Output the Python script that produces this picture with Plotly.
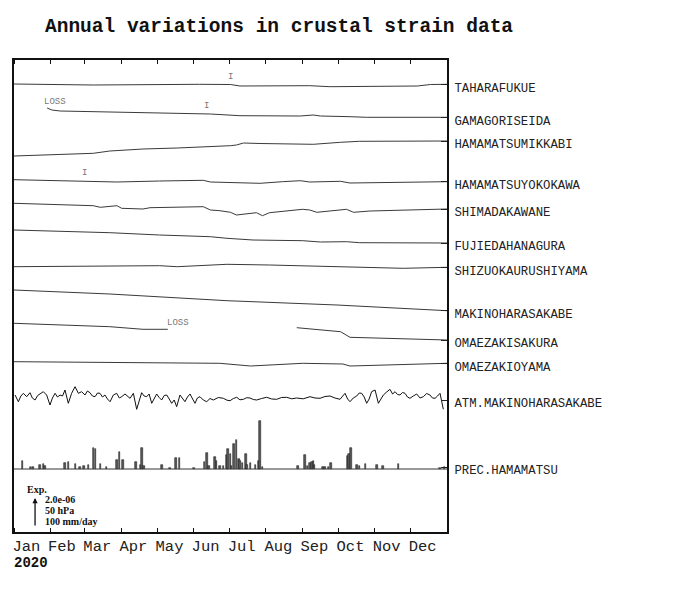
import pandas as pd
import plotly.graph_objects as go

# ---------------- data (chart units, 2.0e-06 strain = 50 hPa = 100 mm/day = 29 units) ----
YEAR_START = "2020-01-01"
YEAR_END = "2021-01-01"

TAHARAFUKUE_DAYS = [0, 67, 157, 183, 191, 250, 267, 284, 292, 341, 352, 366]
TAHARAFUKUE_VALS = [448, 447, 447.7, 447.5, 446, 446.3, 445.3, 445.3, 446, 446, 447.5, 447.7]

GAMAGORISEIDA_DAYS = [28, 32, 39, 81, 138, 157, 166, 191, 214, 242, 253, 259, 284, 298, 366]
GAMAGORISEIDA_VALS = [424, 422, 421, 420, 418, 418, 418, 416.3, 416, 416, 417, 416, 415.3, 414.7, 414.7]

MIKKABI_DAYS = [0, 53, 67, 81, 109, 138, 157, 183, 188, 194, 208, 253, 276, 292, 366]
MIKKABI_VALS = [376, 377.7, 378.7, 381, 383, 384, 384.7, 386.3, 387, 389, 388.5, 387.7, 389.7, 390.7, 391]

YOKOKAWA_DAYS = [0, 53, 87, 123, 157, 160, 166, 185, 194, 208, 227, 242, 250, 276, 284, 326, 366]
YOKOKAWA_VALS = [352.3, 351.3, 350, 351, 351.5, 351.7, 350, 349.3, 349, 348.7, 350.3, 351.3, 350, 350.7, 349, 350, 350.3]

SHIMADAKAWANE_DAYS = [0, 45, 67, 73, 87, 91, 109, 115, 138, 160, 166, 174, 183, 188, 205, 210,
                      216, 244, 250, 256, 281, 287, 301, 329, 366]
SHIMADAKAWANE_VALS = [328.7, 327.3, 326.3, 324.7, 326.3, 323.7, 323, 324.3, 325, 325.3, 322, 321.3,
                      319.7, 317, 319.3, 316.3, 319.3, 322.7, 322, 319.7, 322.7, 319.7, 321, 322, 323]

FUJIEDA_DAYS = [0, 81, 123, 166, 180, 202, 244, 259, 281, 292, 366]
FUJIEDA_VALS = [302, 299.3, 297, 295.3, 293.7, 292, 291.3, 290, 290.3, 289.3, 289]

SHIZUOKA_DAYS = [0, 81, 123, 138, 180, 216, 259, 287, 329, 366]
SHIZUOKA_VALS = [265.3, 266.3, 266.3, 265.3, 267.7, 267, 266, 264.7, 263.7, 264.7]

MAKINOHARA_DAYS = [0, 81, 180, 273, 366]
MAKINOHARA_VALS = [242, 238, 231.3, 227, 221.3]

SAKURA_DAYS = [0, 81, 109, 130, None, 239, 276, 284, 366]
SAKURA_VALS = [208.7, 205.3, 202.7, 202.7, None, 204.3, 200.3, 194.7, 192]

OYAMA_DAYS = [0, 81, 174, 200, 244, 278, 284, 366]
OYAMA_VALS = [170.3, 169.3, 168.7, 166, 168.7, 168, 166, 168.7]

ATM_DAYS = [0.9, 3.7, 5.8, 7.9, 10.7, 13.5, 15.5, 17.8, 20, 22, 24.8, 27.6, 30.4, 32.5, 34.7, 36.8,
            38.9, 41, 43.1, 45.9, 48.7, 51.6, 54.4, 57.2, 60, 62, 64.2, 66.3, 68.5, 70.6, 72.7, 74.8,
            76.9, 79, 81.2, 84, 86.8, 89, 91, 93.8, 96, 98.1, 100.9, 103.7, 107.9, 110, 112.1, 114.2,
            116.4, 118.5, 120.6, 122.7, 124.8, 127, 129.1, 131.2, 133.3, 135.4, 137.5, 140.3, 142.4,
            144.5, 146.6, 148.8, 151, 153, 155, 157.2, 160, 162.9, 165.7, 168.5, 172.7, 177, 180,
            182.6, 185.4, 188.2, 191, 193.9, 196.7, 199.5, 202.3, 205.1, 209.3, 213.6, 217.8, 222,
            226.2, 230.5, 234.7, 238.9, 244.5, 250.2, 254.4, 258.7, 262.9, 267.1, 271.3, 275.6, 279.8,
            282, 284, 286.8, 289.7, 291.8, 293.9, 296, 298.1, 300.2, 302.3, 305.2, 308, 310.1, 312.2,
            315, 317.8, 320, 322.1, 324.2, 326.3, 328.4, 330.5, 332.6, 334.7, 337.5, 340.4, 343.2, 346,
            348.8, 351.6, 353.7, 355.9, 358, 360.1, 362.9]
ATM_VALS = [137, 130.3, 136, 138.7, 135.3, 139.3, 134, 132, 136.5, 138, 140.3, 137, 127, 134, 138.7, 135,
            137, 136, 142, 128.7, 138.7, 145.3, 138.7, 140.3, 137, 141, 139.3, 136, 135.3, 139, 138.7, 135,
            137, 133, 130.3, 137, 138.7, 134, 135.3, 138, 136, 133.7, 138.7, 122.7, 139.3, 136, 135.3, 138,
            128.7, 134, 138, 134.5, 132, 136.5, 137, 133, 128.7, 132, 125.3, 137, 134,
            130.3, 135, 138, 133, 128.7, 134, 135.3, 132, 130.3, 133.5, 132, 134.5, 133.7, 131.8,
            131.3, 133.5, 134.7, 132.2, 132.7, 134.3, 134, 132.5, 132, 133.5, 134.7, 133, 132.7,
            134.5, 134.7, 133.2, 134, 133.2, 135.3, 134, 133.7, 135.5, 136, 134, 132.7, 138.7,
            133, 130.3, 134, 136, 139, 138.7, 135, 128.7, 133, 140.3, 142, 128.7, 133, 137,
            140, 142.7, 138, 140.3, 137.5, 137, 139.5, 138.7, 135, 133.7, 136, 138, 134, 135.3,
            138.5, 137, 134, 133.7, 136, 138.7, 122.7]

PREC_BASE = 63
PREC_DAYS = [7, 14, 16, 22, 25, 26, 43, 46, 52, 56, 59, 63, 67, 69, 73, 78, 87, 89, 92, 103, 107, 108,
             110, 125, 132, 137, 140, 152, 161, 163, 165, 170, 171, 174, 177, 180, 181, 183, 184, 186,
             188, 190, 191, 193, 196, 197, 200, 204, 207, 208, 210, 240, 246, 248, 250, 252, 253, 254,
             261, 263, 266, 268, 282, 283, 285, 290, 292, 297, 307, 312, 325, 360, 364]
PREC_VALS = [7.7, 2, 2, 4.3, 5, 2.7, 6, 7, 5, 2, 3.3, 3.7, 21, 20, 5.3, 2, 9.3, 17, 8.7, 7, 4.3, 21,
             3.3, 4, 1, 10.7, 10.7, 1, 7, 16, 2.7, 12, 7.7, 2.7, 3.3, 14.3, 20, 15.3, 3.3, 25.3,
             28.7, 10.3, 7.7, 6, 15, 4.3, 6, 4.3, 8.3, 47.7, 2, 2.7, 14.3, 3.3, 6, 7, 7.7, 4.3,
             2, 1.7, 2, 6, 12.7, 15, 21, 4.3, 2.7, 5, 4.3, 2.7, 5, 1, 2]

SERIES = [
    ("TAHARAFUKUE", TAHARAFUKUE_DAYS, TAHARAFUKUE_VALS),
    ("GAMAGORISEIDA", GAMAGORISEIDA_DAYS, GAMAGORISEIDA_VALS),
    ("HAMAMATSUMIKKABI", MIKKABI_DAYS, MIKKABI_VALS),
    ("HAMAMATSUYOKOKAWA", YOKOKAWA_DAYS, YOKOKAWA_VALS),
    ("SHIMADAKAWANE", SHIMADAKAWANE_DAYS, SHIMADAKAWANE_VALS),
    ("FUJIEDAHANAGURA", FUJIEDA_DAYS, FUJIEDA_VALS),
    ("SHIZUOKAURUSHIYAMA", SHIZUOKA_DAYS, SHIZUOKA_VALS),
    ("MAKINOHARASAKABE", MAKINOHARA_DAYS, MAKINOHARA_VALS),
    ("OMAEZAKISAKURA", SAKURA_DAYS, SAKURA_VALS),
    ("OMAEZAKIOYAMA", OYAMA_DAYS, OYAMA_VALS),
]
ATM_NAME = "ATM.MAKINOHARASAKABE"
ATM_LEVEL = 132
PREC_NAME = "PREC.HAMAMATSU"

# (text, day, value)
NOTES = [("LOSS", 34.7, 430), ("LOSS", 138.6, 209), ("I", 182.6, 455), ("I", 163.1, 426), ("I", 59.2, 359)]
SCALE_UNITS = 29
SCALE_TEXT = ["2.0e-06", "50 hPa", "100 mm/day"]

# ---------------- figure ----------------
t0 = pd.Timestamp(YEAR_START)


def dates(days):
    return [None if d is None else t0 + pd.Timedelta(days=d) for d in days]


fig = go.Figure()
LINE_COLOR = "#3a3a3a"
for name, d, v in SERIES:
    fig.add_trace(go.Scatter(x=dates(d), y=v, mode="lines", line=dict(color=LINE_COLOR, width=1),
                             connectgaps=False, showlegend=False, name=name))

fig.add_trace(go.Scatter(x=dates(ATM_DAYS), y=ATM_VALS, mode="lines",
                         line=dict(color="#111", width=1), showlegend=False, name=ATM_NAME))

fig.add_trace(go.Scatter(x=[pd.Timestamp(YEAR_START), pd.Timestamp(YEAR_END)], y=[PREC_BASE, PREC_BASE],
                         mode="lines", line=dict(color="#333", width=1), showlegend=False))
fig.add_trace(go.Bar(x=dates(PREC_DAYS), y=PREC_VALS, base=PREC_BASE, width=1.3 * 86400000,
                     marker=dict(color="#5a5a5a", line=dict(color="#222", width=0.6)),
                     showlegend=False, name=PREC_NAME))

label_vals = [v[-1] for _, _, v in SERIES] + [ATM_LEVEL, PREC_BASE + 2]
label_text = [n for n, _, _ in SERIES] + [ATM_NAME, PREC_NAME]

for txt, d, v in NOTES:
    fig.add_annotation(x=t0 + pd.Timedelta(days=d), y=v, text=txt, showarrow=False,
                       font=dict(family="Liberation Mono", size=9, color="#777"))

# scale arrow
arrow_day = 17.8
fig.add_annotation(x=t0 + pd.Timedelta(days=arrow_day), y=5 + SCALE_UNITS,
                   ax=t0 + pd.Timedelta(days=arrow_day), ay=5, axref="x", ayref="y",
                   xref="x", yref="y", text="", showarrow=True, arrowhead=2, arrowsize=0.8,
                   arrowwidth=1.3, arrowcolor="#111")
fig.add_annotation(x=t0 + pd.Timedelta(days=9.3), y=43, text="<b>Exp.</b>", showarrow=False,
                   xanchor="left", font=dict(family="Liberation Serif", size=10, color="#111"))
for i, t in enumerate(SCALE_TEXT):
    fig.add_annotation(x=t0 + pd.Timedelta(days=24.5), y=33 - 11 * i, text="<b>%s</b>" % t,
                       showarrow=False, xanchor="left",
                       font=dict(family="Liberation Serif", size=10, color="#111"))

fig.add_annotation(xref="paper", yref="paper", x=-0.005, y=-0.066, text="<b>2020</b>",
                   showarrow=False, xanchor="left", yanchor="middle",
                   font=dict(family="Liberation Mono", size=14, color="#111"))

fig.update_layout(
    width=700, height=600,
    margin=dict(l=6, r=261, t=52, b=76),
    paper_bgcolor="white", plot_bgcolor="white",
    title=dict(text="<b>Annual variations in crustal strain data</b>", xref="container", yref="container",
               x=37 / 700, xanchor="left", y=1 - 17 / 600, yanchor="middle",
               font=dict(family="Liberation Mono", size=19.5, color="#111")),
    showlegend=False,
    bargap=0,
)
fig.update_xaxes(type="date", range=[YEAR_START, YEAR_END], dtick="M1", tick0=YEAR_START,
                 tickformat="%b", ticklabelmode="period", ticklabelshift=-6, ticklabelstandoff=-2,
                 ticks="inside", ticklen=4, tickwidth=1.2, tickcolor="#111",
                 showline=True, linewidth=2, linecolor="#111", mirror="ticks",
                 showgrid=False, zeroline=False, automargin=False,
                 tickfont=dict(family="Liberation Mono", size=15.5, color="#222"))
fig.update_yaxes(range=[0, 472], side="right", tickmode="array", tickvals=label_vals, ticktext=label_text,
                 ticks="inside", ticklen=6, tickwidth=1, tickcolor="#222", ticklabelshift=3,
                 ticklabelstandoff=3,
                 showline=True, linewidth=2, linecolor="#111", mirror=True,
                 showgrid=False, zeroline=False, automargin=False,
                 tickfont=dict(family="Liberation Mono", size=12.3, color="#222"))

fig.write_html("out.html")
